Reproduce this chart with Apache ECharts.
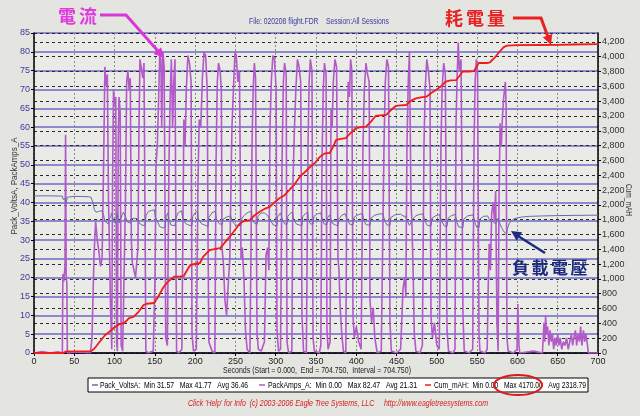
<!DOCTYPE html>
<html>
<head>
<meta charset="utf-8">
<script src="https://cdn.jsdelivr.net/npm/echarts@6/dist/echarts.min.js"></script>
<style>
html,body{margin:0;padding:0;background:#e4e4e0;}
#c{width:640px;height:416px;}
</style>
</head>
<body>
<div id="c"></div>
<script>
// ---------- DATA ----------
const seriesNames = ['Pack_VoltsA', 'PackAmps_A', 'Cum_mAH'];
const seriesColors = ['#6a6aa6', '#b25ac8', '#f01c1c'];
const statMin = ['31.57', '0.00', '0.00'];
const statMax = ['41.77', '82.47', '4170.00'];
const statAvg = ['36.46', '21.31', '2318.79'];

const ampsData = [
[0,0],[10,0.4],[20,0],[30,0.3],[35.2,0],
[35.8,21],[37,19],[38.5,23],[39.2,58],[39.9,21],[40.8,18],[41.4,0],
[55,0.3],[70,0],
[72,4],[74.5,26],[76.5,35],[78.5,30],[80.5,27],[82.5,23],[84.5,25],
[86.5,52],[88,76],[89.5,71],[91,74],[92.5,40],[93.5,30],
[95,12],[96.5,1],[97.5,45],[98.7,70],[100,66],[101.5,68],[102.5,3],
[103.5,0.5],[104.5,55],[105.5,68],[107,64],[108.2,2],
[110,0.5],[112,1],
[113.5,40],[115,72],[116.5,75],[118,70],[119.5,73],[120.8,30],[122,24],[124,22],[126,20],[127.5,24],[129,28],
[130.3,60],[131.5,78],[133,76],[135,73],[136.5,77],[138,30],[138.8,0.5],
[142,0],[148,0.5],
[150.2,20],[151.5,50],[153,55],[154.5,66],[156,79],[157.5,78],[158.5,60],[160,80],[161.5,76],[162.6,40],[163.5,4],[165.5,2],
[167.5,50],[169,68],[170.5,78],[172,60],[173.5,72],[175,78],[176.2,25],[177,0.5],
[180,0],[183.5,1],
[184.9,35],[186,62],[187.5,55],[189,70],[191,79],[193,77],[195,72],[196.1,5],
[198,0.5],[201.5,1],
[203.5,45],[205,62],[207,60],[209,73],[211,80],[213,79],[215,70],[216,30],[217,3],
[221,0.5],[224.5,0],
[225.9,50],[227.5,72],[229,77],[231,75],[232.5,70],[233.3,28],[235,24],[237,14],[239,10],[241,18],[243,25],
[245.7,60],[247.5,70],[249.5,80],[251,79],[253,72],[255,75],[256.9,25],[258.5,28],[260.5,20],[262.5,6],[264.5,1],[268,0],
[270.6,55],[272,70],[273.5,77],[275,73],[276.8,5],
[278.5,1],[282,0.5],[286,3],[288,26],[290,28],[291.5,22],
[292.9,60],[294.5,72],[296.5,79],[298.5,78],[300.5,70],[301.6,6],
[303.5,0.5],[306,1],
[307.8,50],[309.5,72],[311,77],[313,74],[314,3],
[316,0],[320,0.5],
[321.4,45],[323,58],[325,70],[327,78],[329,76],[331,72],[332.6,10],
[334.5,0.5],[338,0],
[340.1,55],[341.5,72],[343,78],[345,75],[346.3,4],
[348,0.5],[354,0],[356,2],
[357.4,50],[359,70],[360.5,77],[362.5,74],[363.6,6],
[365,1],[367.5,3],
[368.6,65],[370,60],[371.5,72],[373.5,78],[375.5,76],[377.3,25],[378.5,22],[380,12],[382,5],[384,0.5],[387,0],
[388.5,55],[390,72],[391.5,68],[393,78],[394.5,75],[395.9,10],[397.5,4],[400,7],[403,3],[406,1],
[408.3,55],[410,70],[412,77],[414,74],[416,72],[417,14],[419,8],[421,12],[423,4],[426,0],[431,0.5],[433,1],
[434.4,55],[436,72],[438,78],[440,76],[441.8,8],
[443.5,0.5],[450,0],[455,1],[458,17],[460,20],[461.5,15],
[462.9,55],[464.5,72],[466,80],[467.9,40],[469,35],[470.5,22],[472,5],[474,0.5],[479,0],[482,2],
[484,55],[485.5,70],[487.5,78],[489.5,75],[491.5,70],[492.7,10],[494.5,4],[497,8],[500,2],[503,1],
[505.1,55],[506.5,70],[508.5,77],[510.5,74],[512.6,6],
[514.5,0.5],[520,0],[522.5,1],
[523.7,60],[525,72],[526.5,82.47],[528,75],[530,78],[532.4,10],[534,0.5],[540,0],[544.5,1],
[546.1,55],[547.5,72],[549,78],[550.5,75],[552.3,5],[553.5,0.5],[560,0],[562.5,1],
[563.5,15],[565,29],[566.5,22],[568,37],[570,40],[571.5,35],[573,43],[574.6,8],[576,0.5],
[577.1,40],[578.5,61],[580,55],[581.5,63],[583,68],[585,72],[586,65],[587,4],[588.5,0.5],
[595,0],[599.5,1],[600.5,13],[601.9,2],[603,0],[620,0.5],[631,0],
[632,4],[633,8],[634,3],[635,10],[636,5],[637.5,7],[639,2],[640.5,6],[642,3],[643.5,5],[645,1],[646.5,4],[648,2],[650,5],[651.5,2],[653,4],[655,1],[657,3],[659,2],[661,4],[663,1],[665,3],[667,5],[668.5,2],[670,4],[672,6],[673.5,2],[675,5],[677,3],[678.5,7],[680,2],[682,6],[683.5,3],[685,5],[687,2],[688,0],
[700,0]
];

const voltsData = [
[0,41.7],[15,41.75],[30,41.7],[35.5,41.65],[36,40.8],[38.5,41.0],[39.3,39.6],[40.3,40.4],[41.5,41.4],[50,41.6],[60,41.55],[68,41.5],[71,41.3],[73,40],[75,38],[77,37.4],[80,37.6],[84,37.8],
[86.5,36.5],[88,35],[90,34.5],[92.5,34.2],[93.5,35.5],[95,36.2],[96.5,37.2],
[97.5,36],[99,34.8],[101.5,34.5],[102.5,36.4],[103.5,37],
[104.5,35.5],[106,34.6],[108,34.4],[109,36.5],[111,37.4],[113,37.8],
[114,36],[116,34.8],[120,34.5],[121,35.6],[124,35.8],[128,35.7],[129.5,35.4],
[130.5,34.5],[134,34],[137.8,33.8],[139,36.5],[142,37.6],[146,37.9],[149.5,38],
[150.5,36.2],[153,35],[156,33.6],[160,33.2],[162.6,33.4],[164,36.2],[166,37.2],
[167.5,35.4],[170,34],[175,33.8],[176.5,36],[179,37.3],[183,37.8],
[185,35.6],[188,34.4],[192,34],[196,33.8],[197,36.3],[200,37.3],[203,37.6],
[204,35.6],[208,34.3],[212,34],[216,33.6],[217,36],[221,37.3],[225,37.6],
[226.5,35.5],[230,34.3],[233.5,34.2],[235,35.6],[240,36.2],[244,36.4],
[246,35],[250,34],[256.9,33.8],[258,35.8],[262,36.8],[266,37.4],[270,37.6],
[271,35.6],[274,34.4],[277,34.2],[278,36.3],[282,37.2],[286,37.2],[290,36.5],
[293.5,35.2],[297,34],[301.6,33.8],[302.5,36.2],[306,37.2],
[308,35.6],[311,34.3],[314,34.2],[315,36.3],[318,37.1],[321,37.4],
[322,35.5],[326,34.2],[332.6,33.8],[333.5,36.2],[337,37.1],[340,37.3],
[340.5,35.6],[343,34.3],[346.3,34.2],[347.5,36.3],[352,37.0],[356,37.2],
[357.8,35.5],[360,34.3],[363.6,34.1],[364.5,36.0],[367,36.7],[368.6,36.4],
[370,34.5],[374,34.0],[377.3,33.8],[378.5,35.6],[382,36.6],[386,37.0],[388,37.1],
[389,35.4],[392,34.2],[395.9,34.0],[397,36.0],[401,36.6],[405,36.9],[408,37.0],
[409,35.4],[412,34.1],[417,33.9],[418,35.8],[423,36.6],[428,36.9],[433,37.0],
[435,35.3],[438,34.0],[441.8,33.9],[443,36.0],[448,36.7],[455,36.9],[458,36.4],[461,36.3],
[463.5,35.0],[466,33.9],[468,34.3],[470,35.5],[474,36.5],[480,36.9],[483,36.9],
[485,35.2],[488,33.9],[492.7,33.7],[494,35.8],[498,36.4],[503,36.8],
[506,35.1],[509,33.8],[512.6,33.6],[514,35.8],[518,36.5],[523,36.8],
[524.5,35.0],[527,33.5],[532.4,33.3],[533.5,35.6],[538,36.4],[545,36.7],
[547,34.8],[549.5,33.4],[552.3,33.3],[553.5,35.6],[558,36.3],[563,36.4],
[565,35.5],[570,34.8],[573,34.3],[574.6,35.2],[576,35.8],
[578,34.5],[581,33],[584,32],[586.5,31.57],[587.5,33],[590,34.5],[595,35.6],[600,35.9],[605,36.1],[615,36.3],[630,36.4],[650,36.5],[670,36.55],[690,36.6],[700,36.6]
];

const mahData = [
[0,0],[36,0],[40,22],[71,25],[75,60],[88,240],[95,300],[99,337],[106,390],[112,405],[118,470],[124,490],[130,560],[136,648],[140,665],[149,675],[153,740],[161,895],[166,960],[174,1030],[181,1032],[186,1040],[189,1100],[194,1188],[206,1215],[210,1300],[218,1390],[225,1405],[231,1417],[236,1480],[243,1570],[248,1640],[256,1755],[262,1785],[268,1795],[274,1860],[280,1908],[287,1950],[293,1975],[298,2030],[305,2092],[311,2130],[318,2214],[323,2270],[330,2380],[336,2440],[343,2515],[349,2570],[355,2650],[361,2695],[367,2700],[371,2780],[375,2876],[381,2890],[387,2900],[392,2960],[400,3037],[406,3050],[412,3055],[418,3120],[424,3200],[430,3208],[437,3213],[442,3270],[449,3335],[455,3343],[462,3348],[467,3400],[474,3438],[480,3452],[487,3460],[493,3510],[499,3550],[505,3600],[511,3663],[517,3680],[524,3685],[528,3740],[532,3800],[540,3800],[546,3805],[549,3860],[552,3915],[562,3915],[566,3925],[572,3990],[578,4070],[583,4130],[587,4150],[600,4155],[630,4158],[650,4160],[670,4165],[700,4170]
];

const titleText = 'File: 020208 flight.FDR    Session:All Sessions';
const xAxisTitle = 'Seconds (Start = 0.000,  End = 704.750,  Interval = 704.750)';
const leftAxisTitle = 'Pack_VoltsA, PackAmps_A';
const rightAxisTitle = 'Cum_mAH';
const footerText = "Click 'Help' for Info  (c) 2003-2006 Eagle Tree Systems, LLC     http://www.eagletreesystems.com";

// ---------- CHART ----------
const chart = echarts.init(document.getElementById('c'), null, {renderer: 'canvas'});
const FONT = "'Liberation Sans', Arial, sans-serif";
const CJK = "'Noto Sans CJK TC', 'Noto Sans CJK SC', sans-serif";
const measureCtx = document.createElement('canvas').getContext('2d');

function arrowHead(x1, y1, x2, y2, len, half) {
  const dx = x2 - x1, dy = y2 - y1, L = Math.hypot(dx, dy);
  const ux = dx / L, uy = dy / L;
  const bx = x2 - ux * len, by = y2 - uy * len;
  return [[x2, y2], [bx - uy * half, by + ux * half], [bx + uy * half, by - ux * half]];
}
function charRow(chars, x0, pitch, y, size, color) {
  return chars.split('').map((ch, i) => ({
    type: 'text', left: x0 + i * pitch, top: y, z: 100,
    style: {text: ch, fill: color, font: `bold ${size}px ${CJK}`}
  }));
}
// text fitted to a given width (condensed like the original small UI font)
function fitText(text, cx, cy, width, font, color, rotation, align) {
  measureCtx.font = font;
  const w = measureCtx.measureText(text).width;
  return {type: 'text', z: 50, x: cx, y: cy, rotation: rotation || 0, scaleX: width / w,
          style: {text, fill: color, font, align: align || 'center', verticalAlign: 'middle'}};
}

// stats box built from the named arrays
const LEG_FONT = `9px ${FONT}`;
const legendBox = {x: 88, y: 378, w: 500, h: 14};
const legendSlots = [[92, 100, 148], [259, 268, 149], [425, 434, 152]]; // [iconX, textX, textWidth]
const legendEls = [
  {type: 'rect', z: 150, shape: {x: legendBox.x, y: legendBox.y, width: legendBox.w, height: legendBox.h},
   style: {fill: '#ffffff', stroke: '#000', lineWidth: 1}}
];
seriesNames.forEach((n, i) => {
  const txt = `${n}:  Min ${statMin[i]}   Max ${statMax[i]}   Avg ${statAvg[i]}`;
  const [ix, tx, tw] = legendSlots[i];
  const cy = legendBox.y + legendBox.h / 2;
  legendEls.push({type: 'line', z: 151, shape: {x1: ix, y1: cy, x2: ix + 6, y2: cy},
                  style: {stroke: seriesColors[i], lineWidth: 1.5}});
  const t = fitText(txt, tx, cy + 0.5, tw, LEG_FONT, '#000', 0, 'left');
  t.z = 151;
  legendEls.push(t);
});

const graphics = [
  ...legendEls,
  // annotation: 電流
  ...charRow('電流', 58, 21, 7, 18, '#e03ce0'),
  {type: 'polyline', z: 100, shape: {points: [[100, 15], [126, 15], [158, 51]]}, style: {stroke: '#d838d8', lineWidth: 3, fill: null}},
  {type: 'polygon', z: 100, shape: {points: arrowHead(126, 15, 164, 58, 10, 5)}, style: {fill: '#d838d8'}},
  // annotation: 耗電量
  ...charRow('耗電量', 445, 21, 9, 18, '#e82222'),
  {type: 'polyline', z: 100, shape: {points: [[513, 18], [541, 18], [548, 37]]}, style: {stroke: '#e82222', lineWidth: 3, fill: null}},
  {type: 'polygon', z: 100, shape: {points: arrowHead(541, 18, 551, 45, 10, 5)}, style: {fill: '#e82222'}},
  // annotation: 負載電壓
  ...charRow('負載電壓', 512, 19.5, 259, 17, '#1c2a80'),
  {type: 'line', z: 100, shape: {x1: 545, y1: 253, x2: 518, y2: 236}, style: {stroke: '#1c2a80', lineWidth: 2.5}},
  {type: 'polygon', z: 100, shape: {points: arrowHead(545, 253, 511, 231, 10, 5)}, style: {fill: '#1c2a80'}},
  // title, axis names, footer
  fitText(titleText, 319, 22, 140, `9px ${FONT}`, '#3a3aa0'),
  fitText(xAxisTitle, 317, 371, 188, `9px ${FONT}`, '#222'),
  fitText(leftAxisTitle, 15, 186, 97, `9px ${FONT}`, '#333', Math.PI / 2),
  fitText(rightAxisTitle, 628, 200, 32, `9px ${FONT}`, '#333', -Math.PI / 2),
  fitText(footerText, 338, 403, 300, `italic 9px ${FONT}`, '#d42020'),
  // red ellipse around Max 4170.00
  {type: 'ellipse', z: 200, shape: {cx: 518, cy: 385, rx: 24, ry: 10}, style: {stroke: '#e01818', lineWidth: 2, fill: null}}
];

chart.setOption({
  animation: false,
  backgroundColor: '#e4e4e0',
  grid: {left: 34, right: 42, top: 33, bottom: 63, show: true, backgroundColor: '#eaeae6', borderWidth: 0},
  xAxis: {
    type: 'value', min: 0, max: 700, interval: 50,
    axisLine: {lineStyle: {color: '#000', width: 1.5}},
    axisTick: {length: 3, lineStyle: {color: '#000'}},
    axisLabel: {fontSize: 9, color: '#222', margin: 4, fontFamily: FONT},
    splitLine: {show: true, lineStyle: {color: '#8a8a8a', type: [2, 2], width: 1}}
  },
  yAxis: [
    {
      type: 'value', min: 0, max: 85, interval: 5, position: 'left',
      axisLine: {show: true, lineStyle: {color: '#000', width: 1.5}},
      axisTick: {show: true, length: 3, lineStyle: {color: '#000'}},
      axisLabel: {fontSize: 9, color: '#3a3aa0', margin: 4, fontFamily: FONT},
      splitLine: {show: true, lineStyle: {color: '#6a6ac4', width: 1.5}}
    },
    {
      type: 'value', min: 0, max: 4320, interval: 200, position: 'right',
      axisLine: {show: true, lineStyle: {color: '#000', width: 1.5}},
      axisTick: {show: true, length: 3, lineStyle: {color: '#000'}},
      axisLabel: {fontSize: 9, color: '#333', margin: 4, fontFamily: FONT, showMaxLabel: false,
                  formatter: v => v.toLocaleString('en-US')},
      splitLine: {show: true, lineStyle: {color: '#2a2a2a', width: 1, type: [3, 3]}}
    }
  ],
  series: [
    {name: 'PackAmps_A', type: 'line', yAxisIndex: 0, data: ampsData, showSymbol: false, z: 3,
     lineStyle: {color: seriesColors[1], width: 1.6}, itemStyle: {color: seriesColors[1]}},
    {name: 'Pack_VoltsA', type: 'line', yAxisIndex: 0, data: voltsData, showSymbol: false, z: 4,
     lineStyle: {color: seriesColors[0], width: 1}, itemStyle: {color: seriesColors[0]}},
    {name: 'Cum_mAH', type: 'line', yAxisIndex: 1, data: mahData, showSymbol: false, z: 5,
     lineStyle: {color: seriesColors[2], width: 1.8}, itemStyle: {color: seriesColors[2]}}
  ],
  graphic: graphics
});
</script>
</body>
</html>
